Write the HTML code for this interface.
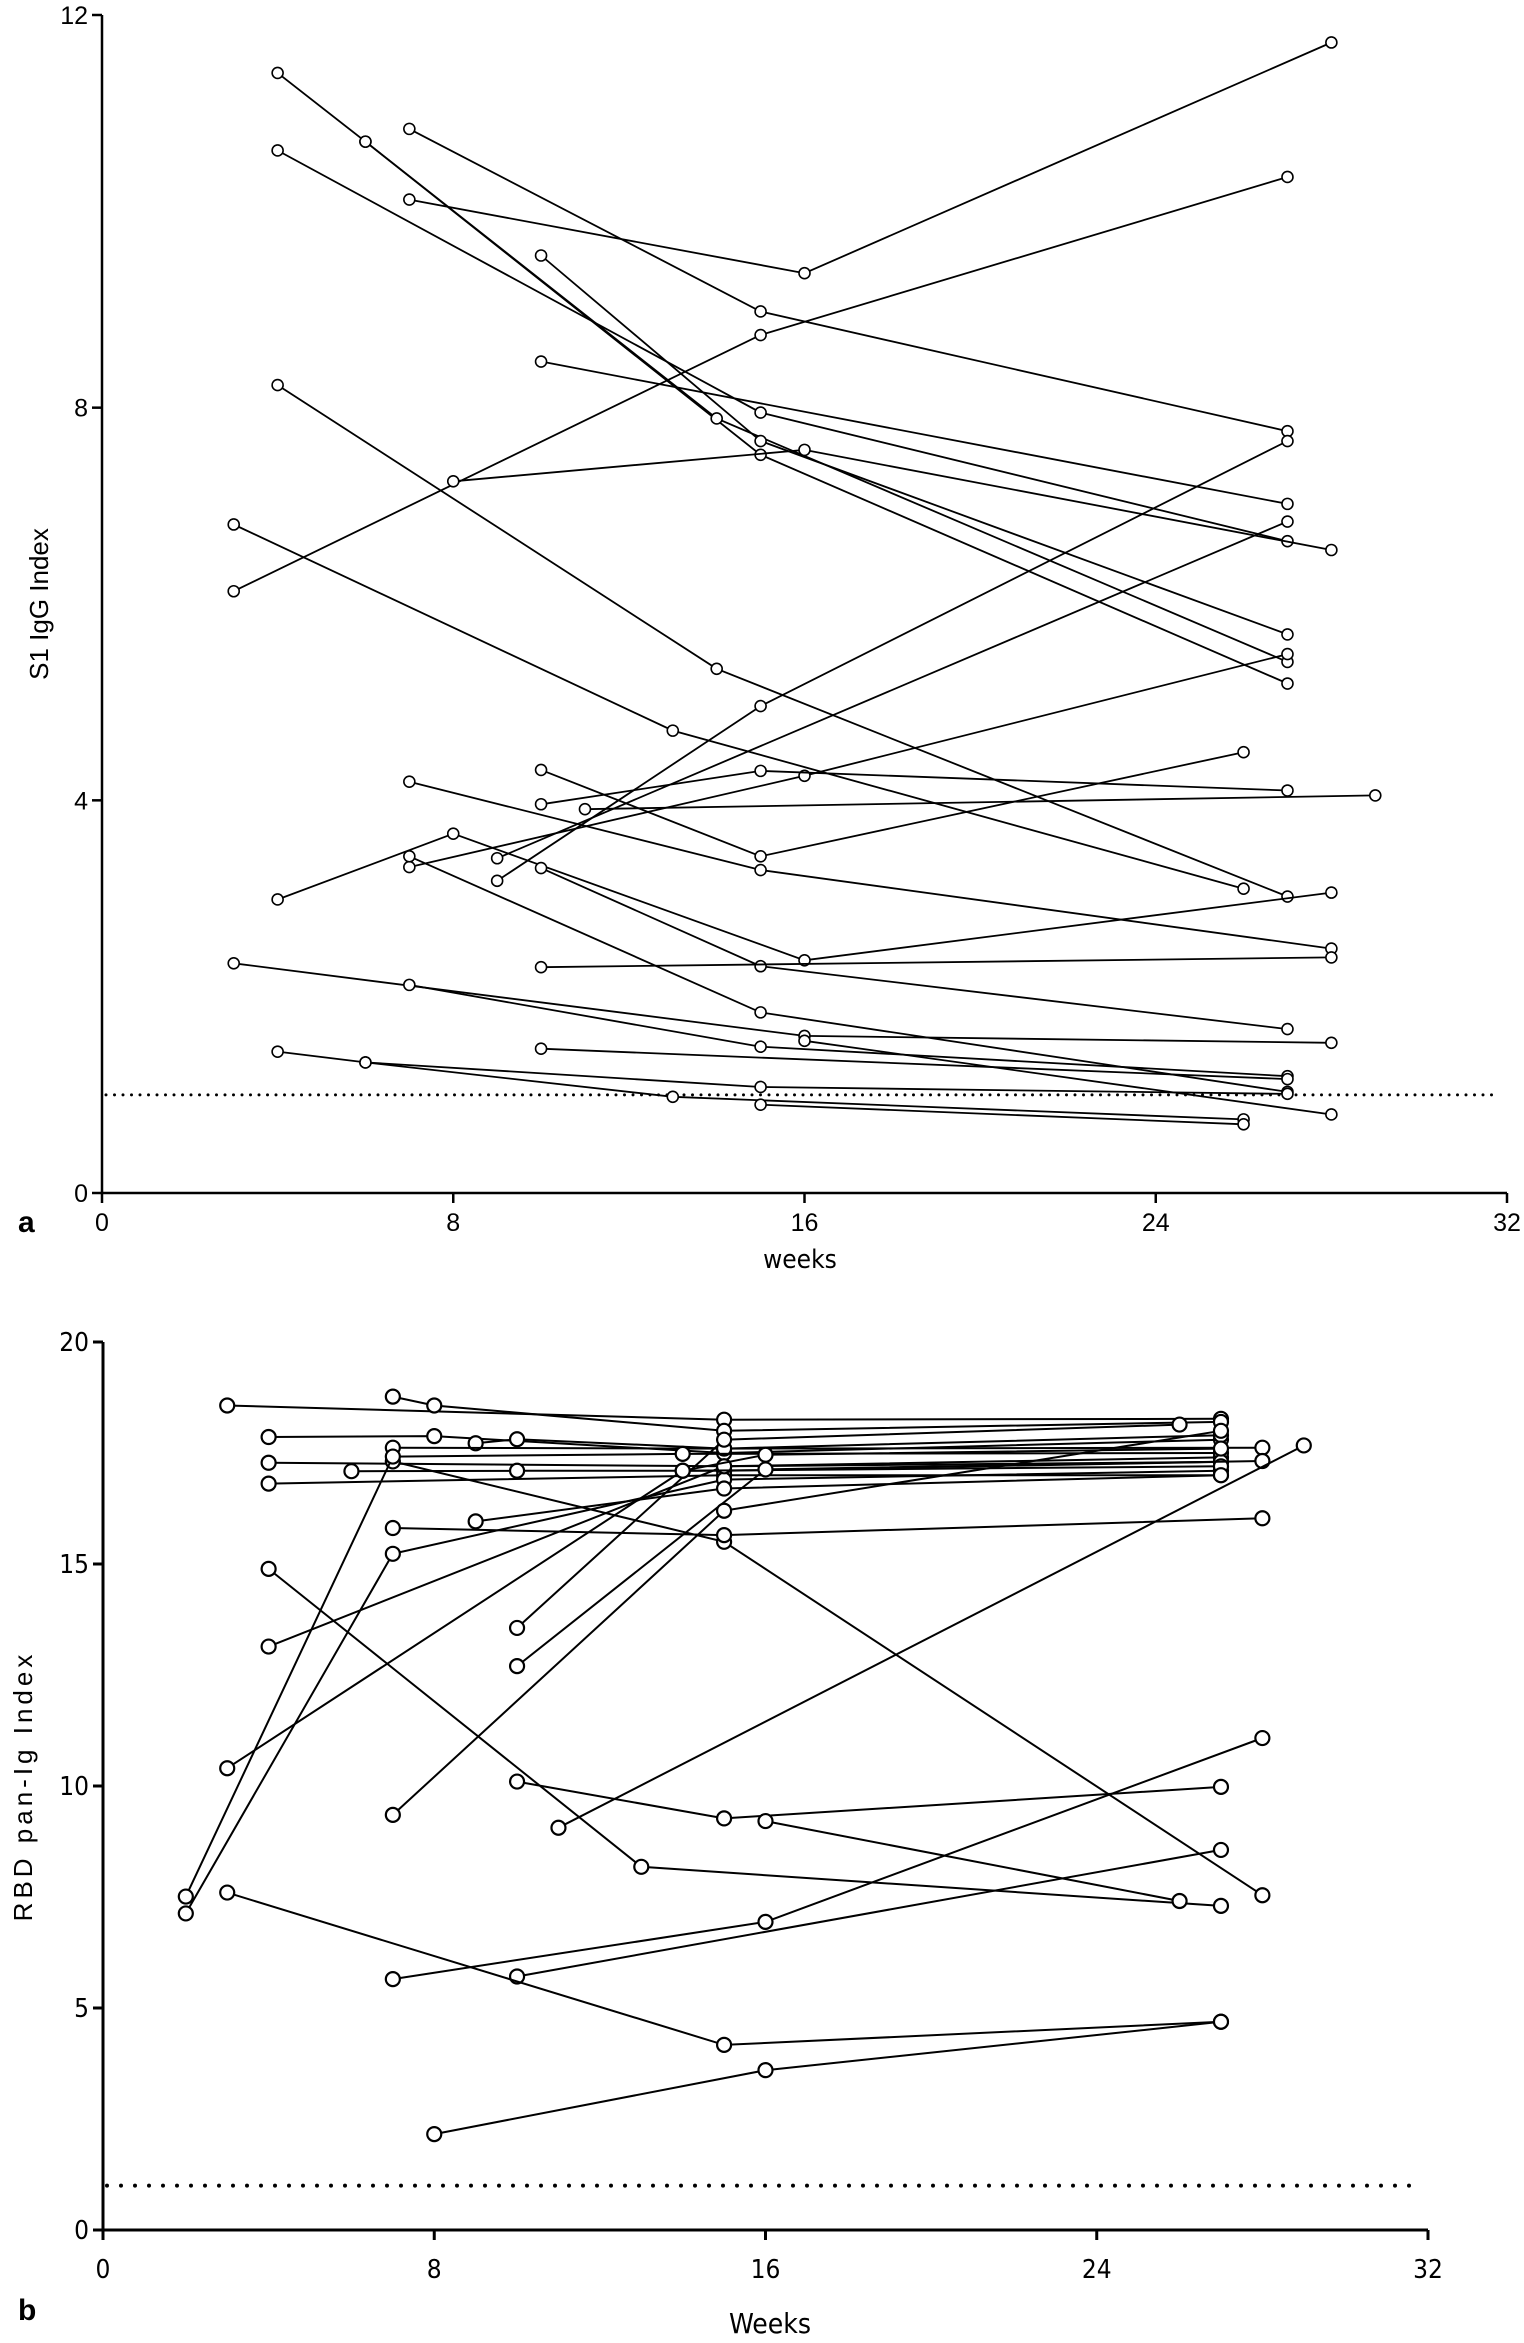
<!DOCTYPE html>
<html><head><meta charset="utf-8"><style>
html,body{margin:0;padding:0;background:#fff;}
svg{display:block;}
text{font-family:"Liberation Sans",sans-serif;fill:#000;}
</style></head><body>
<svg id="fig" width="1524" height="2343" viewBox="0 0 1524 2343">
<g id="chartA"></g>
<g id="chartB"></g>
<text x="18" y="1232" font-size="30" font-weight="bold">a</text>
<text x="800" y="1268" font-size="26" text-anchor="middle" style="font-family:'DejaVu Sans Condensed','DejaVu Sans',sans-serif">weeks</text>
<text transform="translate(48,604) rotate(-90)" font-size="26" text-anchor="middle">S1 IgG Index</text>
<text x="18" y="2320" font-size="30" font-weight="bold">b</text>
<text x="770" y="2333" font-size="28" text-anchor="middle" style="font-family:'DejaVu Sans Condensed','DejaVu Sans',sans-serif">Weeks</text>
<text transform="translate(32,1786) rotate(-90)" font-size="26" text-anchor="middle" letter-spacing="4">RBD pan-Ig Index</text>
</svg>
<script>
var NS="http://www.w3.org/2000/svg";
// Panel a data
var aXTicks=[0,8,16,24,32];
var aYTicks=[0,4,8,12];
var aCutoff=1;
var aWeeks=[[7,15,27],[7,16,28],[3,15,27],[4,6,15,27],[6,14,27],[10,15,27],[4,15,27],[10,27],[8,16,28],[4,14,27],[3,13,26],[7,15,28],[9,15,27],[9,27],[7,16,27],[10,15,27],[11,29],[10,15,26],[4,8,16,28],[10,15,27],[7,15,27],[10,28],[3,16,28],[7,15,27],[10,27],[4,6,15,27],[6,13,26],[15,26],[16,28]];
var aValues=[[10.84,8.98,7.76],[10.12,9.37,11.72],[6.13,8.74,10.35],[11.41,10.71,7.52,5.19],[10.71,7.89,5.41],[9.55,7.66,5.69],[10.62,7.95,6.64],[8.47,7.02],[7.25,7.57,6.55],[8.23,5.34,3.02],[6.81,4.71,3.10],[4.19,3.29,2.49],[3.18,4.96,7.66],[3.41,6.84],[3.32,4.25,5.49],[3.96,4.30,4.10],[3.91,4.05],[4.31,3.43,4.49],[2.99,3.66,2.37,3.06],[3.31,2.31,1.67],[3.43,1.84,1.03],[2.30,2.40],[2.34,1.60,1.53],[2.12,1.49,1.19],[1.47,1.16],[1.44,1.33,1.08,1.01],[1.33,0.98,0.75],[0.90,0.70],[1.55,0.80]];
// Panel b data
var bXTicks=[0,8,16,24,32];
var bYTicks=[0,5,10,15,20];
var bCutoff=1;
var bWeeks=[[3,15,27],[7,8,15,27],[4,8,15,27],[9,10,15,27],[4,15,27],[6,10,15,27],[4,15,27],[7,15,28],[7,15,28],[7,15,28],[2,7,14,27],[2,7,15,27],[4,15,27],[3,14,27],[9,15,27],[10,15,26],[10,16,28],[7,15,27],[4,13,27],[10,15,27],[16,26],[11,29],[7,16,28],[10,27],[3,15,27],[8,16,27],[14,16,27]];
var bValues=[[18.57,18.25,18.27],[18.77,18.57,18.0,18.2],[17.86,17.88,17.5,17.8],[17.72,17.81,17.6,17.9],[17.28,17.2,17.4],[17.09,17.10,17.1,17.3],[16.81,17.0,17.0],[17.62,17.6,17.62],[17.31,15.5,7.54],[15.81,15.65,16.03],[7.51,17.42,17.48,17.5],[7.13,15.23,16.9,17.1],[13.14,17.2,17.3],[10.40,17.10,17.2],[15.96,16.7,17.0],[13.56,17.8,18.14],[12.70,17.13,17.32],[9.35,16.2,18.0],[14.89,8.18,7.30],[10.10,9.27,9.98],[9.21,7.41],[9.06,17.67],[5.65,6.94,11.08],[5.71,8.56],[7.60,4.17,4.69],[2.16,3.60,4.69],[17.10,17.46,17.6]];

function mk(tag,attrs,parent){var e=document.createElementNS(NS,tag);for(var k in attrs)e.setAttribute(k,attrs[k]);parent.appendChild(e);return e;}

function drawChart(g,cfg,weeks,values,xTicks,yTicks,cutoff,prefix){
  var sx=function(w){return cfg.x0+(cfg.x1-cfg.x0)*w/cfg.xmax;};
  var sy=function(v){return cfg.y0-(cfg.y0-cfg.y1)*v/cfg.ymax;};
  var ax=mk('path',{d:'M'+cfg.x0+' '+cfg.y1+' V'+cfg.y0+' H'+cfg.x1,stroke:'#000','stroke-width':cfg.axW,fill:'none'},g);
  
  
  xTicks.forEach(function(t){
    var x=sx(t);
    var tk=mk('line',{x1:x,x2:x,y1:cfg.y0,y2:cfg.y0+10,stroke:'#000','stroke-width':cfg.axW},g);
    
    
    var tx=mk('text',{x:x,y:cfg.y0+cfg.xlabOff,'font-size':cfg.fs,'text-anchor':'middle',style:cfg.font},g);
    tx.textContent=t;
    
    
  });
  yTicks.forEach(function(t){
    var y=sy(t);
    var tk=mk('line',{x1:cfg.x0-10,x2:cfg.x0,y1:y,y2:y,stroke:'#000','stroke-width':cfg.axW},g);
    
    
    var tx=mk('text',{x:cfg.x0-14,y:y+9,'font-size':cfg.fs,'text-anchor':'end',style:cfg.font},g);
    tx.textContent=t;
    
    
  });
  var cl=mk('line',{x1:cfg.x0+4,x2:cfg.cutEnd,y1:sy(cutoff),y2:sy(cutoff),stroke:'#000','stroke-width':cfg.dotW,'stroke-dasharray':'0 '+cfg.dotGap,'stroke-linecap':'round'},g);
  
  
  weeks.forEach(function(ws,i){
    var vs=values[i];
    var d=ws.map(function(w,j){return (j?'L':'M')+sx(w).toFixed(1)+' '+sy(vs[j]).toFixed(1);}).join(' ');
    var p=mk('path',{d:d,stroke:'#000','stroke-width':cfg.lw,fill:'none'},g);
    
    
    ws.forEach(function(w,j){
      var c=mk('circle',{cx:sx(w),cy:sy(vs[j]),r:cfg.r,fill:'#fff',stroke:'#000','stroke-width':cfg.cw},g);
      
      
    });
  });
}
drawChart(document.getElementById('chartA'),{x0:102,x1:1507,y0:1193,y1:15,xmax:32,ymax:12,axW:2.5,fs:25,xlabOff:38,font:"font-family:'Liberation Sans',sans-serif",cutEnd:1500,dotW:3,dotGap:8.5,lw:1.8,r:5.5,cw:1.6},aWeeks,aValues,aXTicks,aYTicks,aCutoff,'a');
drawChart(document.getElementById('chartB'),{x0:103,x1:1428,y0:2230,y1:1342,xmax:32,ymax:20,axW:3,fs:26,xlabOff:48,font:"font-family:'DejaVu Sans Condensed','DejaVu Sans',sans-serif",cutEnd:1416,dotW:4,dotGap:14,lw:2,r:7,cw:2.2},bWeeks,bValues,bXTicks,bYTicks,bCutoff,'b');
</script>
</body></html>
